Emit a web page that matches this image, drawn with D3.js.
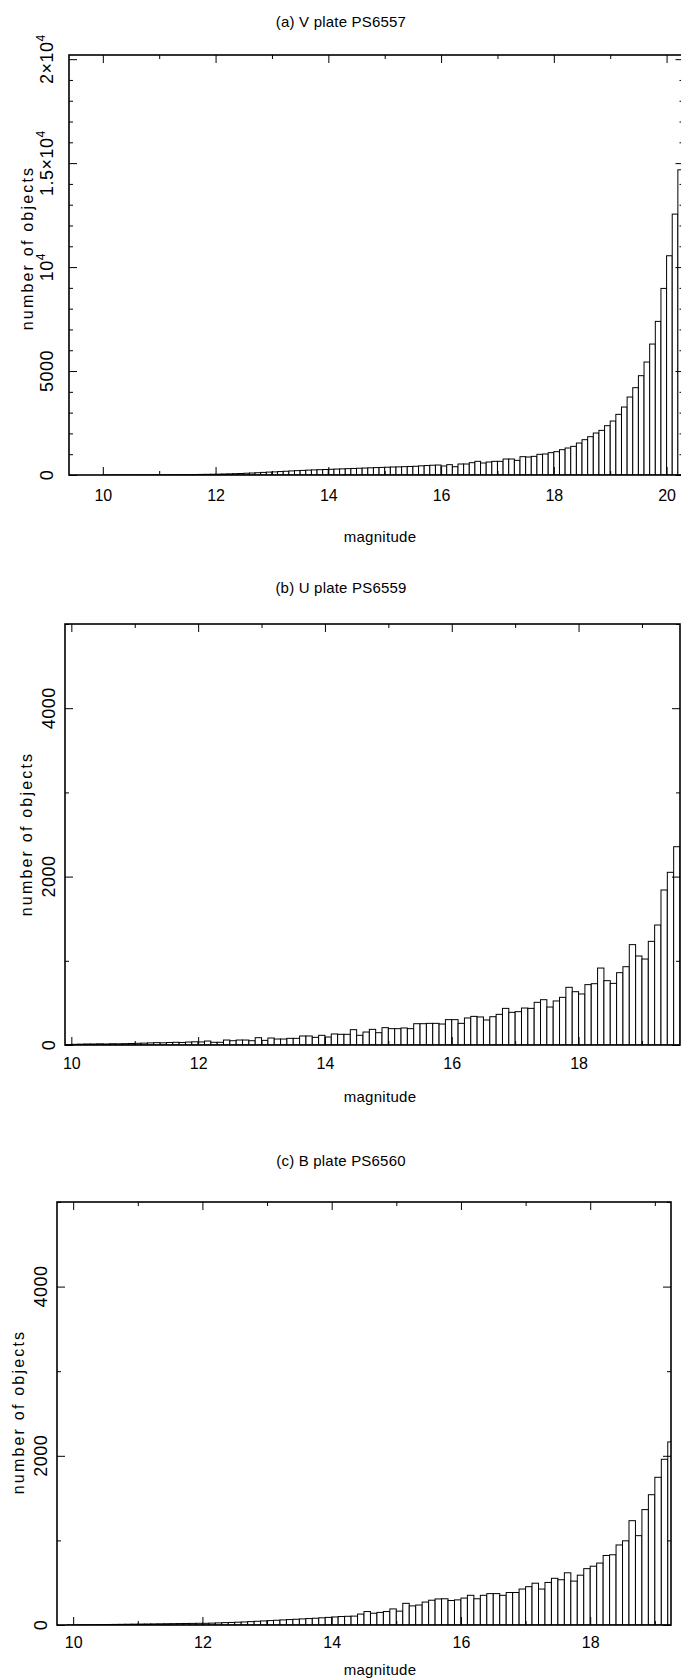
<!DOCTYPE html>
<html>
<head>
<meta charset="utf-8">
<script src="https://cdn.jsdelivr.net/npm/d3@7"></script>
<style>
  body { margin: 0; background: #fff; }
  text { font-family: "Liberation Sans", Arial, sans-serif; fill: #000; }
</style>
</head>
<body>
<svg id="chart" width="681" height="1680"></svg>
<script>
// histogram counts per 0.1 mag bin
var binWidth = 0.1;
var titles = ["(a) V plate PS6557", "(b) U plate PS6559", "(c) B plate PS6560"];

var firstBinA = 9.4;
var countsA = [
  0, 0, 0, 0, 0, 0,
  2, 3, 3, 4, 5, 5, 6, 7, 8, 9,
  10, 12, 14, 16, 18, 20, 24, 28, 32, 36,
  40, 48, 56, 64, 72, 85, 95, 110, 125, 140,
  150, 165, 180, 195, 210, 220, 235, 245, 255, 265,
  275, 285, 295, 305, 315, 325, 335, 345, 355, 365,
  375, 385, 390, 400, 410, 420, 440, 455, 470, 480,
  433, 497, 400, 529, 529, 593, 657, 577, 625, 657,
  657, 769, 769, 705, 881, 865, 897, 994, 1010, 1074,
  1122, 1218, 1298, 1378, 1538, 1699, 1843, 2019, 2147, 2372,
  2596, 2917, 3269, 3750, 4199, 4776, 5433, 6298, 7388, 8974,
  10545, 12548, 14679
];

var firstBinB = 9.9;
var countsB = [
  5,
  8, 10, 12, 12, 14, 12, 15, 14, 16, 18,
  20, 22, 25, 28, 26, 30, 32, 30, 35, 38,
  36, 47, 32, 32, 59, 51, 59, 59, 51, 87,
  55, 83, 71, 71, 79, 79, 107, 107, 91, 115,
  95, 131, 127, 127, 182, 115, 154, 186, 146, 206,
  194, 194, 202, 194, 253, 253, 257, 257, 249, 301,
  301, 257, 321, 340, 333, 297, 336, 364, 435, 388,
  396, 439, 435, 507, 538, 451, 523, 566, 685, 633,
  606, 717, 728, 914, 764, 732, 859, 930, 1192, 1057,
  1021, 1231, 1425, 1841, 2051, 2355
];

var firstBinC = 9.7;
var countsC = [
  0, 0, 1,
  2, 3, 4, 4, 5, 6, 7, 8, 9, 10,
  11, 12, 13, 14, 15, 16, 17, 18, 19, 20,
  20, 22, 25, 28, 30, 33, 36, 40, 44, 48,
  52, 56, 60, 64, 68, 72, 76, 80, 85, 90,
  95, 100, 103, 105, 129, 159, 139, 149, 159, 190,
  164, 256, 226, 236, 271, 293, 308, 310, 289, 297,
  318, 351, 310, 351, 371, 371, 351, 384, 384, 425,
  453, 494, 425, 503, 552, 535, 617, 519, 589, 666,
  695, 732, 822, 830, 946, 995, 1233, 1056, 1364, 1540,
  1746, 1959, 2164
];

var xMajorTicks = [10, 12, 14, 16, 18, 20];
var yTicksA = [0, 5000, 10000, 15000, 20000];
var yLabelsA = [["0", ""], ["5000", ""], ["10", "4"], ["1.5\u00d710", "4"], ["2\u00d710", "4"]];
var yTicksBC = [0, 2000, 4000];
var yLabelsBC = [["0", ""], ["2000", ""], ["4000", ""]];

var panels = [
  { title: titles[0], first: firstBinA, counts: countsA, xDomain: [9.4, 20.3], yMax: 20200,
    left: 69, right: 683.5, top: 55, bottom: 475, yTicks: yTicksA, yLabels: yLabelsA,
    titleY: 21, labelX: 47, axisTitleX: 27, axisTitleY: 248, tickPad: 15, magY: 536 },
  { title: titles[1], first: firstBinB, counts: countsB, xDomain: [9.9, 19.6], yMax: 5000,
    left: 65, right: 680, top: 624, bottom: 1045, yTicks: yTicksBC, yLabels: yLabelsBC,
    titleY: 587, labelX: 49, axisTitleX: 26, axisTitleY: 834, tickPad: 13, magY: 1096 },
  { title: titles[2], first: firstBinC, counts: countsC, xDomain: [9.75, 19.25], yMax: 5000,
    left: 57, right: 671, top: 1202, bottom: 1625, yTicks: yTicksBC, yLabels: yLabelsBC,
    titleY: 1160, labelX: 41, axisTitleX: 18, axisTitleY: 1412, tickPad: 12, magY: 1669 }
];

var svg = d3.select("#chart");

function tickAxis(g, axis, transform) {
  var a = g.append("g").attr("transform", transform).call(axis);
  a.select(".domain").remove();
  a.selectAll(".tick line").attr("stroke", "#000").attr("stroke-width", 1);
  return a;
}

panels.forEach(function (p, k) {
  var g = svg.append("g");
  var x = d3.scaleLinear().domain(p.xDomain).range([p.left, p.right]);
  var y = d3.scaleLinear().domain([0, p.yMax]).range([p.bottom, p.top]);

  var clipId = "plotclip" + k;
  svg.append("clipPath").attr("id", clipId).append("rect")
    .attr("x", p.left).attr("y", p.top)
    .attr("width", p.right - p.left).attr("height", p.bottom - p.top);

  // bars
  g.append("g").attr("clip-path", "url(#" + clipId + ")")
    .selectAll("rect").data(p.counts).join("rect")
    .attr("x", function (d, i) { return x(p.first + i * binWidth); })
    .attr("width", function (d, i) { return x(p.first + (i + 1) * binWidth) - x(p.first + i * binWidth); })
    .attr("y", function (d) { return y(d); })
    .attr("height", function (d) { return y(0) - y(d); })
    .attr("fill", "#fff").attr("stroke", "#000").attr("stroke-width", 1);

  var xMinor = d3.range(Math.ceil(p.xDomain[0]), p.xDomain[1]).filter(function (m) { return m % 2 !== 0; });
  var xMajor = xMajorTicks.filter(function (m) { return m >= p.xDomain[0] && m <= p.xDomain[1]; });
  var yMinor = d3.range(0, p.yMax + 1, 1000).filter(function (v) { return p.yTicks.indexOf(v) < 0; });

  // ticks on all four sides, pointing inward
  tickAxis(g, d3.axisBottom(x).tickValues(xMinor).tickSize(-4).tickFormat(""), "translate(0," + p.bottom + ")");
  var bx = tickAxis(g, d3.axisBottom(x).tickValues(xMajor).tickSize(-8).tickPadding(p.tickPad).tickFormat(d3.format("d")),
    "translate(0," + p.bottom + ")");
  bx.selectAll("text").attr("font-size", 16).attr("font-family", null).attr("fill", "#000");
  tickAxis(g, d3.axisTop(x).tickValues(xMinor).tickSize(-4).tickFormat(""), "translate(0," + p.top + ")");
  tickAxis(g, d3.axisTop(x).tickValues(xMajor).tickSize(-8).tickFormat(""), "translate(0," + p.top + ")");
  tickAxis(g, d3.axisLeft(y).tickValues(yMinor).tickSize(-4).tickFormat(""), "translate(" + p.left + ",0)");
  tickAxis(g, d3.axisLeft(y).tickValues(p.yTicks).tickSize(-8).tickFormat(""), "translate(" + p.left + ",0)");
  tickAxis(g, d3.axisRight(y).tickValues(yMinor).tickSize(-4).tickFormat(""), "translate(" + p.right + ",0)");
  tickAxis(g, d3.axisRight(y).tickValues(p.yTicks).tickSize(-8).tickFormat(""), "translate(" + p.right + ",0)");

  // frame
  g.append("rect")
    .attr("x", p.left).attr("y", p.top)
    .attr("width", p.right - p.left).attr("height", p.bottom - p.top)
    .attr("fill", "none").attr("stroke", "#000").attr("stroke-width", 1.6);

  // rotated y tick labels, with superscript exponents
  p.yTicks.forEach(function (v, i) {
    var t = g.append("text")
      .attr("transform", "translate(" + p.labelX + "," + y(v) + ") rotate(-90)")
      .attr("text-anchor", "middle")
      .attr("dominant-baseline", "central")
      .attr("font-size", 18).attr("letter-spacing", 0.5);
    t.append("tspan").text(p.yLabels[i][0]);
    if (p.yLabels[i][1]) {
      t.append("tspan").attr("dy", "-0.5em").attr("font-size", 12).text(p.yLabels[i][1]);
    }
  });

  g.append("text")
    .attr("transform", "translate(" + p.axisTitleX + "," + p.axisTitleY + ") rotate(-90)")
    .attr("text-anchor", "middle").attr("dominant-baseline", "central")
    .attr("font-size", 16).attr("letter-spacing", 2.2)
    .text("number of objects");

  g.append("text")
    .attr("x", 380).attr("y", p.magY)
    .attr("text-anchor", "middle").attr("dominant-baseline", "central")
    .attr("font-size", 15).attr("letter-spacing", 0.3)
    .text("magnitude");

  g.append("text")
    .attr("x", 341).attr("y", p.titleY)
    .attr("text-anchor", "middle").attr("dominant-baseline", "central")
    .attr("font-size", 15).attr("letter-spacing", 0.2)
    .text(p.title);
});
</script>
</body>
</html>
